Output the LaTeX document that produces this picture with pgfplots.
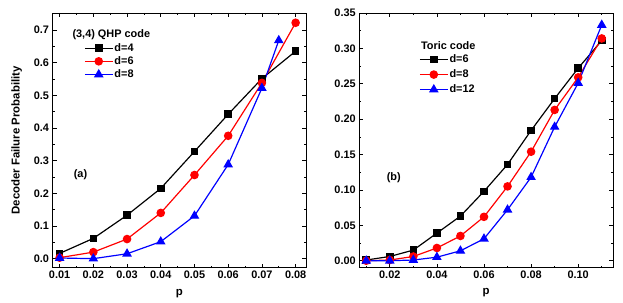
\documentclass[border=0pt]{standalone}
\usepackage{pgfplots}
\pgfplotsset{compat=1.18}
\usepackage{fontspec}
\setmainfont{Liberation Sans}
\begin{document}
\pgfplotsset{
  panel/.style={
    scale only axis, width=255bp, height=256bp,
    scaled x ticks=false, scaled y ticks=false,
    tick align=inside, tick pos=both,
    major tick length=4bp, minor tick length=2.2bp,
    tick style={black, line width=0.6pt},
    axis line style={line width=0.8pt},
    /pgf/number format/assume math mode=true,
    ticklabel style={font=\fontsize{11}{12}\selectfont\bfseries},
    label style={font=\fontsize{11.5}{13}\selectfont\bfseries},
    xlabel={p},
    xlabel style={yshift=-3bp},
    every axis plot/.append style={line width=1.2pt},
    legend cell align=left,
    legend image code/.code={\draw[mark repeat=2, mark phase=2] plot coordinates {(0bp,0bp) (14bp,0bp) (28bp,0bp)};},
    legend style={draw=none, fill=none, inner sep=0pt, row sep=1.8bp,
      nodes={inner xsep=1.2bp, inner ysep=1bp},
      font=\fontsize{11}{12}\selectfont\bfseries, anchor=north west},
  },
  sq/.style={black, mark=square*, mark size=3.2bp, mark options={solid}},
  ci/.style={red, mark=*, mark size=3.7bp},
  tr/.style={blue, mark=triangle*, mark size=4.4bp},
}
\begin{tikzpicture}
\useasboundingbox (-50bp,-35bp) rectangle (573bp,269bp);
\begin{axis}[panel,
  xmin=0.0079, xmax=0.0832, ymin=-0.028, ymax=0.752,
  xtick={0.01,0.02,0.03,0.04,0.05,0.06,0.07,0.08},
  minor xtick={0.015,0.025,0.035,0.045,0.055,0.065,0.075},
  ytick={0,0.1,0.2,0.3,0.4,0.5,0.6,0.7},
  minor ytick={0.05,0.15,0.25,0.35,0.45,0.55,0.65,0.75},
  xticklabel style={/pgf/number format/fixed, /pgf/number format/fixed zerofill, /pgf/number format/precision=2},
  yticklabel style={/pgf/number format/fixed, /pgf/number format/fixed zerofill, /pgf/number format/precision=1},
  ylabel={Decoder Failure Probability},
  ylabel style={yshift=5bp},
  legend style={at={(axis description cs:0.124,0.885)}},
]
\addplot[sq] coordinates {(0.01,0.016) (0.02,0.062) (0.03,0.133) (0.04,0.215) (0.05,0.328) (0.06,0.442) (0.07,0.551) (0.08,0.635)};
\addlegendentry{d=4}
\addplot[ci] coordinates {(0.01,0.003) (0.02,0.020) (0.03,0.060) (0.04,0.140) (0.05,0.256) (0.06,0.376) (0.07,0.538) (0.08,0.722)};
\addlegendentry{d=6}
\addplot[tr] coordinates {(0.01,0.002) (0.02,0.000) (0.03,0.015) (0.04,0.052) (0.05,0.131) (0.06,0.288) (0.07,0.522) (0.075,0.668)};
\addlegendentry{d=8}
\node[anchor=west, inner sep=0pt, font=\fontsize{11}{12}\selectfont\bfseries] at (axis description cs:0.078,0.915) {(3,4) QHP code};
\node[anchor=center, inner sep=0pt, font=\fontsize{11}{12}\selectfont\bfseries] at (axis cs:0.0162,0.258) {(a)};
\end{axis}
\begin{axis}[panel, at={(308bp,0bp)},
  xmin=0.007, xmax=0.1148, ymin=-0.01, ymax=0.35,
  xtick={0.02,0.04,0.06,0.08,0.10},
  minor xtick={0.01,0.03,0.05,0.07,0.09,0.11},
  ytick={0,0.05,0.10,0.15,0.20,0.25,0.30,0.35},
  minor ytick={0.025,0.075,0.125,0.175,0.225,0.275,0.325},
  xticklabel style={/pgf/number format/fixed, /pgf/number format/fixed zerofill, /pgf/number format/precision=2},
  yticklabel style={/pgf/number format/fixed, /pgf/number format/fixed zerofill, /pgf/number format/precision=2},
  legend style={at={(axis description cs:0.236,0.84)}, row sep=3.6bp},
]
\addplot[sq] coordinates {(0.01,0.001) (0.02,0.006) (0.03,0.015) (0.04,0.039) (0.05,0.063) (0.06,0.098) (0.07,0.136) (0.08,0.184) (0.09,0.229) (0.10,0.272) (0.11,0.311)};
\addlegendentry{d=6}
\addplot[ci] coordinates {(0.01,0.000) (0.02,0.001) (0.03,0.006) (0.04,0.018) (0.05,0.035) (0.06,0.062) (0.07,0.105) (0.08,0.154) (0.09,0.213) (0.10,0.259) (0.11,0.314)};
\addlegendentry{d=8}
\addplot[tr] coordinates {(0.01,0.000) (0.02,0.000) (0.03,0.001) (0.04,0.005) (0.05,0.014) (0.06,0.031) (0.07,0.072) (0.08,0.118) (0.09,0.189) (0.10,0.251) (0.11,0.333)};
\addlegendentry{d=12}
\node[anchor=west, inner sep=0pt, font=\fontsize{11}{12}\selectfont\bfseries] at (axis description cs:0.243,0.871) {Toric code};
\node[anchor=center, inner sep=0pt, font=\fontsize{11}{12}\selectfont\bfseries] at (axis cs:0.0217,0.118) {(b)};
\end{axis}
\end{tikzpicture}
\end{document}
